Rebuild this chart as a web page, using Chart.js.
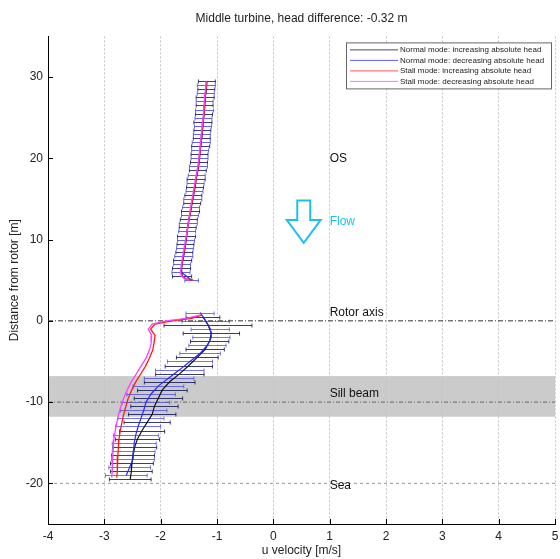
<!DOCTYPE html>
<html>
<head>
<meta charset="utf-8">
<script src="https://cdn.jsdelivr.net/npm/chart.js@4"></script>
<style>
  html, body { margin: 0; padding: 0; background: #fff; }
</style>
</head>
<body>
<canvas id="chart" width="560" height="559"></canvas>
<script>
// axis ticks
const xTicks = [-4, -3, -2, -1, 0, 1, 2, 3, 4, 5];
const yTicks = [-20, -10, 0, 10, 20, 30];

// normal mode, increasing head (black) - upper and lower profile
const upperIncY = [29.5, 28.5, 27.5, 26.5, 25.5, 24.5, 23.5, 22.5, 21.5, 20.5, 19.5, 18.5, 17.5, 16.5, 15.5, 14.5, 13.5, 12.5, 11.5, 10.5, 9.5, 8.5, 7.5, 6.5, 5.5];
const upperIncX = [-1.18, -1.19, -1.21, -1.22, -1.23, -1.25, -1.26, -1.27, -1.29, -1.31, -1.32, -1.34, -1.37, -1.39, -1.42, -1.44, -1.47, -1.50, -1.52, -1.54, -1.56, -1.58, -1.61, -1.63, -1.62];
const upperIncErr = [0.15, 0.15, 0.16, 0.15, 0.15, 0.16, 0.15, 0.15, 0.16, 0.15, 0.15, 0.15, 0.16, 0.15, 0.15, 0.15, 0.16, 0.15, 0.15, 0.16, 0.15, 0.15, 0.16, 0.16, 0.17];
const lowerIncY = [0.5, -0.5, -1.5, -2.5, -3.5, -4.5, -5.5, -6.5, -7.5, -8.5, -9.5, -10.5, -11.5, -12.5, -13.5, -14.5, -15.5, -16.5, -17.5, -18.5, -19.5];
const lowerIncX = [-1.25, -1.16, -1.10, -1.13, -1.21, -1.35, -1.50, -1.66, -1.84, -1.97, -2.04, -2.11, -2.15, -2.24, -2.33, -2.41, -2.46, -2.49, -2.51, -2.52, -2.54];
const lowerIncErr = [0.30, 0.78, 0.50, 0.34, 0.34, 0.37, 0.42, 0.43, 0.45, 0.44, 0.43, 0.42, 0.42, 0.41, 0.40, 0.39, 0.39, 0.38, 0.38, 0.37, 0.37];

// normal mode, decreasing head (blue)
const upperDecY = [29, 28, 27, 26, 25, 24, 23, 22, 21, 20, 19, 18, 17, 16, 15, 14, 13, 12, 11, 10, 9, 8, 7, 6, 5];
const upperDecX = [-1.19, -1.20, -1.22, -1.22, -1.24, -1.25, -1.27, -1.28, -1.30, -1.31, -1.33, -1.36, -1.38, -1.40, -1.43, -1.46, -1.48, -1.51, -1.53, -1.55, -1.57, -1.59, -1.62, -1.64, -1.45];
const upperDecErr = [0.16, 0.15, 0.15, 0.16, 0.15, 0.15, 0.15, 0.16, 0.15, 0.15, 0.16, 0.15, 0.15, 0.15, 0.16, 0.15, 0.15, 0.16, 0.15, 0.15, 0.15, 0.16, 0.15, 0.16, 0.12];
const lowerDecY = [1, 0, -1, -2, -3, -4, -5, -6, -7, -8, -9, -10, -11, -12, -13, -14, -15, -16, -17, -18, -19];
const lowerDecX = [-1.30, -1.20, -1.12, -1.10, -1.17, -1.30, -1.48, -1.66, -1.85, -2.04, -2.17, -2.26, -2.30, -2.35, -2.40, -2.44, -2.47, -2.48, -2.49, -2.55, -2.61];
const lowerDecErr = [0.25, 0.42, 0.34, 0.33, 0.33, 0.36, 0.40, 0.43, 0.44, 0.45, 0.43, 0.42, 0.41, 0.41, 0.40, 0.40, 0.39, 0.38, 0.38, 0.37, 0.37];

// stall mode (red = increasing, magenta = decreasing)
const stallUpperY = [29.5, 27.5, 25.5, 23.5, 21.5, 19.5, 17.5, 15.5, 13.5, 11.5, 9.5, 7.5, 6.0, 5.5, 5.2, 5.0];
const stallIncUpperX = [-1.18, -1.21, -1.23, -1.26, -1.29, -1.32, -1.37, -1.42, -1.47, -1.52, -1.56, -1.61, -1.64, -1.62, -1.55, -1.42];
const stallDecUpperX = [-1.19, -1.22, -1.24, -1.27, -1.30, -1.33, -1.38, -1.43, -1.48, -1.52, -1.57, -1.62, -1.65, -1.63, -1.58, -1.50];
const stallLowerY = [0.7, 0.3, 0.0, -0.4, -1.0, -1.8, -2.8, -3.6, -4.6, -5.6, -6.6, -7.6, -8.6, -9.6, -10.6, -11.6, -12.6, -13.6, -14.6, -15.6, -16.6, -17.6, -18.6, -19.3];
const stallIncLowerX = [-1.27, -1.45, -1.80, -2.10, -2.18, -2.10, -2.12, -2.14, -2.20, -2.27, -2.36, -2.45, -2.52, -2.58, -2.62, -2.66, -2.69, -2.72, -2.74, -2.75, -2.76, -2.77, -2.77, -2.78];
const stallDecLowerX = [-1.30, -1.55, -1.90, -2.15, -2.22, -2.16, -2.17, -2.20, -2.26, -2.35, -2.44, -2.53, -2.60, -2.66, -2.71, -2.75, -2.78, -2.81, -2.83, -2.84, -2.85, -2.86, -2.86, -2.87];

// reference lines and sill beam
const refLineY = [0, -10, -20];
const sillBeam = [-11.8, -6.8];

const legendLabels = [
  'Normal mode: increasing absolute head',
  'Normal mode: decreasing absolute head',
  'Stall mode: increasing absolute head',
  'Stall mode: decreasing absolute head'
];
const seriesColors = ['#111111', '#2a2aff', '#ff1a1a', '#ff40ff'];

// annotations: [text, x, y]
const notes = [['OS', 1, 20], ['Rotor axis', 1, 1.0], ['Sill beam', 1, -9.0], ['Sea', 1, -20.3]];
const flowLabel = ['Flow', 1, 12.2];
const cyan = '#1cc0ec';

const pts = (xs, ys) => ys.map((y, i) => ({ x: xs[i], y: y }));

function line(xs, ys, color, width, dash) {
  return {
    data: pts(xs, ys),
    showLine: true,
    borderColor: color,
    borderWidth: width,
    borderDash: dash || [],
    pointRadius: 0,
    tension: 0
  };
}

const datasets = [
  line(stallDecUpperX, stallUpperY, seriesColors[3], 1.3),
  line(stallDecLowerX, stallLowerY, seriesColors[3], 1.3),
  line(stallIncUpperX, stallUpperY, seriesColors[2], 1.3),
  line(stallIncLowerX, stallLowerY, seriesColors[2], 1.3),
  line(upperDecX, upperDecY, seriesColors[1], 1.2),
  line(lowerDecX, lowerDecY, seriesColors[1], 1.2),
  line(upperIncX, upperIncY, seriesColors[0], 1.2),
  line(lowerIncX, lowerIncY, seriesColors[0], 1.2)
];
const refStyles = [['#333', [5, 2, 1, 2]], ['#666', [4, 2, 1, 2]], ['#999', [3, 3]]];
refLineY.forEach((v, i) => {
  datasets.push(line([xTicks[0], xTicks[xTicks.length - 1]], [v, v], refStyles[i][0], 1, refStyles[i][1]));
});

const errorSets = [
  [upperIncX, upperIncY, upperIncErr, 'rgba(25,25,110,0.85)'],
  [upperDecX, upperDecY, upperDecErr, 'rgba(60,60,240,0.8)'],
  [lowerIncX, lowerIncY, lowerIncErr, 'rgba(25,25,90,0.85)'],
  [lowerDecX, lowerDecY, lowerDecErr, 'rgba(70,70,245,0.75)']
];

const extras = {
  id: 'extras',
  beforeDraw(chart) {
    const { ctx, chartArea: a, scales: { y } } = chart;
    const top = y.getPixelForValue(sillBeam[1]);
    const bot = y.getPixelForValue(sillBeam[0]);
    ctx.save();
    ctx.fillStyle = '#cbcbcb';
    ctx.fillRect(a.left, top, a.right - a.left, bot - top);
    ctx.restore();
  },
  beforeDatasetsDraw(chart) {
    const { ctx, scales: { x, y } } = chart;
    ctx.save();
    ctx.lineWidth = 1;
    errorSets.forEach(([xs, ys, errs, color]) => {
      ctx.strokeStyle = color;
      ys.forEach((v, i) => {
        const py = Math.round(y.getPixelForValue(v)) + 0.5;
        const x1 = x.getPixelForValue(xs[i] - errs[i]);
        const x2 = x.getPixelForValue(xs[i] + errs[i]);
        ctx.beginPath();
        ctx.moveTo(x1, py); ctx.lineTo(x2, py);
        ctx.moveTo(x1, py - 2); ctx.lineTo(x1, py + 2);
        ctx.moveTo(x2, py - 2); ctx.lineTo(x2, py + 2);
        ctx.stroke();
      });
    });
    ctx.restore();
  },
  afterDraw(chart) {
    const { ctx, chartArea: a, scales: { x, y } } = chart;
    ctx.save();

    // inward tick marks like matlab
    ctx.strokeStyle = '#000';
    ctx.lineWidth = 1;
    ctx.beginPath();
    xTicks.forEach(v => {
      const px = Math.round(x.getPixelForValue(v)) + 0.5;
      ctx.moveTo(px, a.bottom); ctx.lineTo(px, a.bottom - 5);
    });
    yTicks.forEach(v => {
      const py = Math.round(y.getPixelForValue(v)) + 0.5;
      ctx.moveTo(a.left, py); ctx.lineTo(a.left + 5, py);
    });
    ctx.stroke();

    // text notes
    ctx.font = '12px "Liberation Sans", Arial, sans-serif';
    ctx.textBaseline = 'middle';
    ctx.textAlign = 'left';
    ctx.fillStyle = '#111';
    notes.forEach(([t, vx, vy]) => ctx.fillText(t, x.getPixelForValue(vx), y.getPixelForValue(vy)));
    ctx.fillStyle = cyan;
    ctx.fillText(flowLabel[0], x.getPixelForValue(flowLabel[1]), y.getPixelForValue(flowLabel[2]));

    // flow arrow (hollow)
    const cx = 0.54, sw = 0.115, hw = 0.3;
    const arrow = [[cx - sw, 14.8], [cx + sw, 14.8], [cx + sw, 12.4], [cx + hw, 12.4], [cx, 9.6], [cx - hw, 12.4], [cx - sw, 12.4]];
    ctx.strokeStyle = cyan;
    ctx.lineWidth = 2;
    ctx.lineJoin = 'miter';
    ctx.beginPath();
    arrow.forEach(([vx, vy], i) => {
      const px = x.getPixelForValue(vx), py = y.getPixelForValue(vy);
      if (i === 0) ctx.moveTo(px, py); else ctx.lineTo(px, py);
    });
    ctx.closePath();
    ctx.stroke();

    // legend box
    const bw = 205, bh = 46;
    const bx = a.right - bw - 4, by = a.top + 6;
    ctx.fillStyle = '#fff';
    ctx.fillRect(bx, by, bw, bh);
    ctx.strokeStyle = '#666';
    ctx.lineWidth = 1;
    ctx.strokeRect(bx + 0.5, by + 0.5, bw, bh);
    ctx.font = '8px "Liberation Sans", Arial, sans-serif';
    legendLabels.forEach((t, i) => {
      const ly = by + 7.5 + i * 10.5;
      ctx.strokeStyle = seriesColors[i];
      ctx.globalAlpha = 0.75;
      ctx.beginPath();
      ctx.moveTo(bx + 4, ly); ctx.lineTo(bx + 52, ly);
      ctx.stroke();
      ctx.globalAlpha = 1;
      ctx.fillStyle = '#222';
      ctx.fillText(t, bx + 54, ly);
    });
    ctx.restore();
  }
};

Chart.defaults.font.family = '"Liberation Sans", Arial, Helvetica, sans-serif';
Chart.defaults.color = '#222';

new Chart(document.getElementById('chart'), {
  type: 'scatter',
  data: { datasets: datasets },
  options: {
    responsive: false,
    animation: false,
    layout: { padding: { left: 0, right: 5, top: 0, bottom: 0 } },
    plugins: {
      legend: { display: false },
      tooltip: { enabled: false },
      title: {
        display: true,
        text: 'Middle turbine, head difference: -0.32 m',
        fullSize: false,
        font: { size: 12, weight: 'normal' },
        color: '#222',
        padding: { top: 11, bottom: 11 }
      }
    },
    scales: {
      x: {
        type: 'linear',
        min: xTicks[0],
        max: xTicks[xTicks.length - 1],
        afterBuildTicks: s => { s.ticks = xTicks.map(v => ({ value: v })); },
        afterFit: s => { s.height = 35; s.paddingLeft = 0; s.paddingRight = 0; },
        grid: { color: '#c4c4c4', drawTicks: false },
        border: { display: true, color: '#000', width: 1, dash: [2, 2] },
        ticks: { padding: 5, font: { size: 12 }, color: '#222' },
        title: { display: true, text: 'u velocity [m/s]', font: { size: 12 }, color: '#222', padding: { top: 0, bottom: 1 } }
      },
      y: {
        type: 'linear',
        min: -25,
        max: 35,
        afterBuildTicks: s => { s.ticks = yTicks.map(v => ({ value: v })); },
        afterFit: s => { s.width = 48; s.paddingTop = 0; s.paddingBottom = 0; },
        grid: { display: false, drawTicks: false },
        border: { display: true, color: '#000', width: 1 },
        ticks: { padding: 5, font: { size: 12 }, color: '#222' },
        title: { display: true, text: 'Distance from rotor [m]', font: { size: 12 }, color: '#222', padding: { top: 7, bottom: 0 } }
      }
    }
  },
  plugins: [extras]
});
</script>
</body>
</html>
